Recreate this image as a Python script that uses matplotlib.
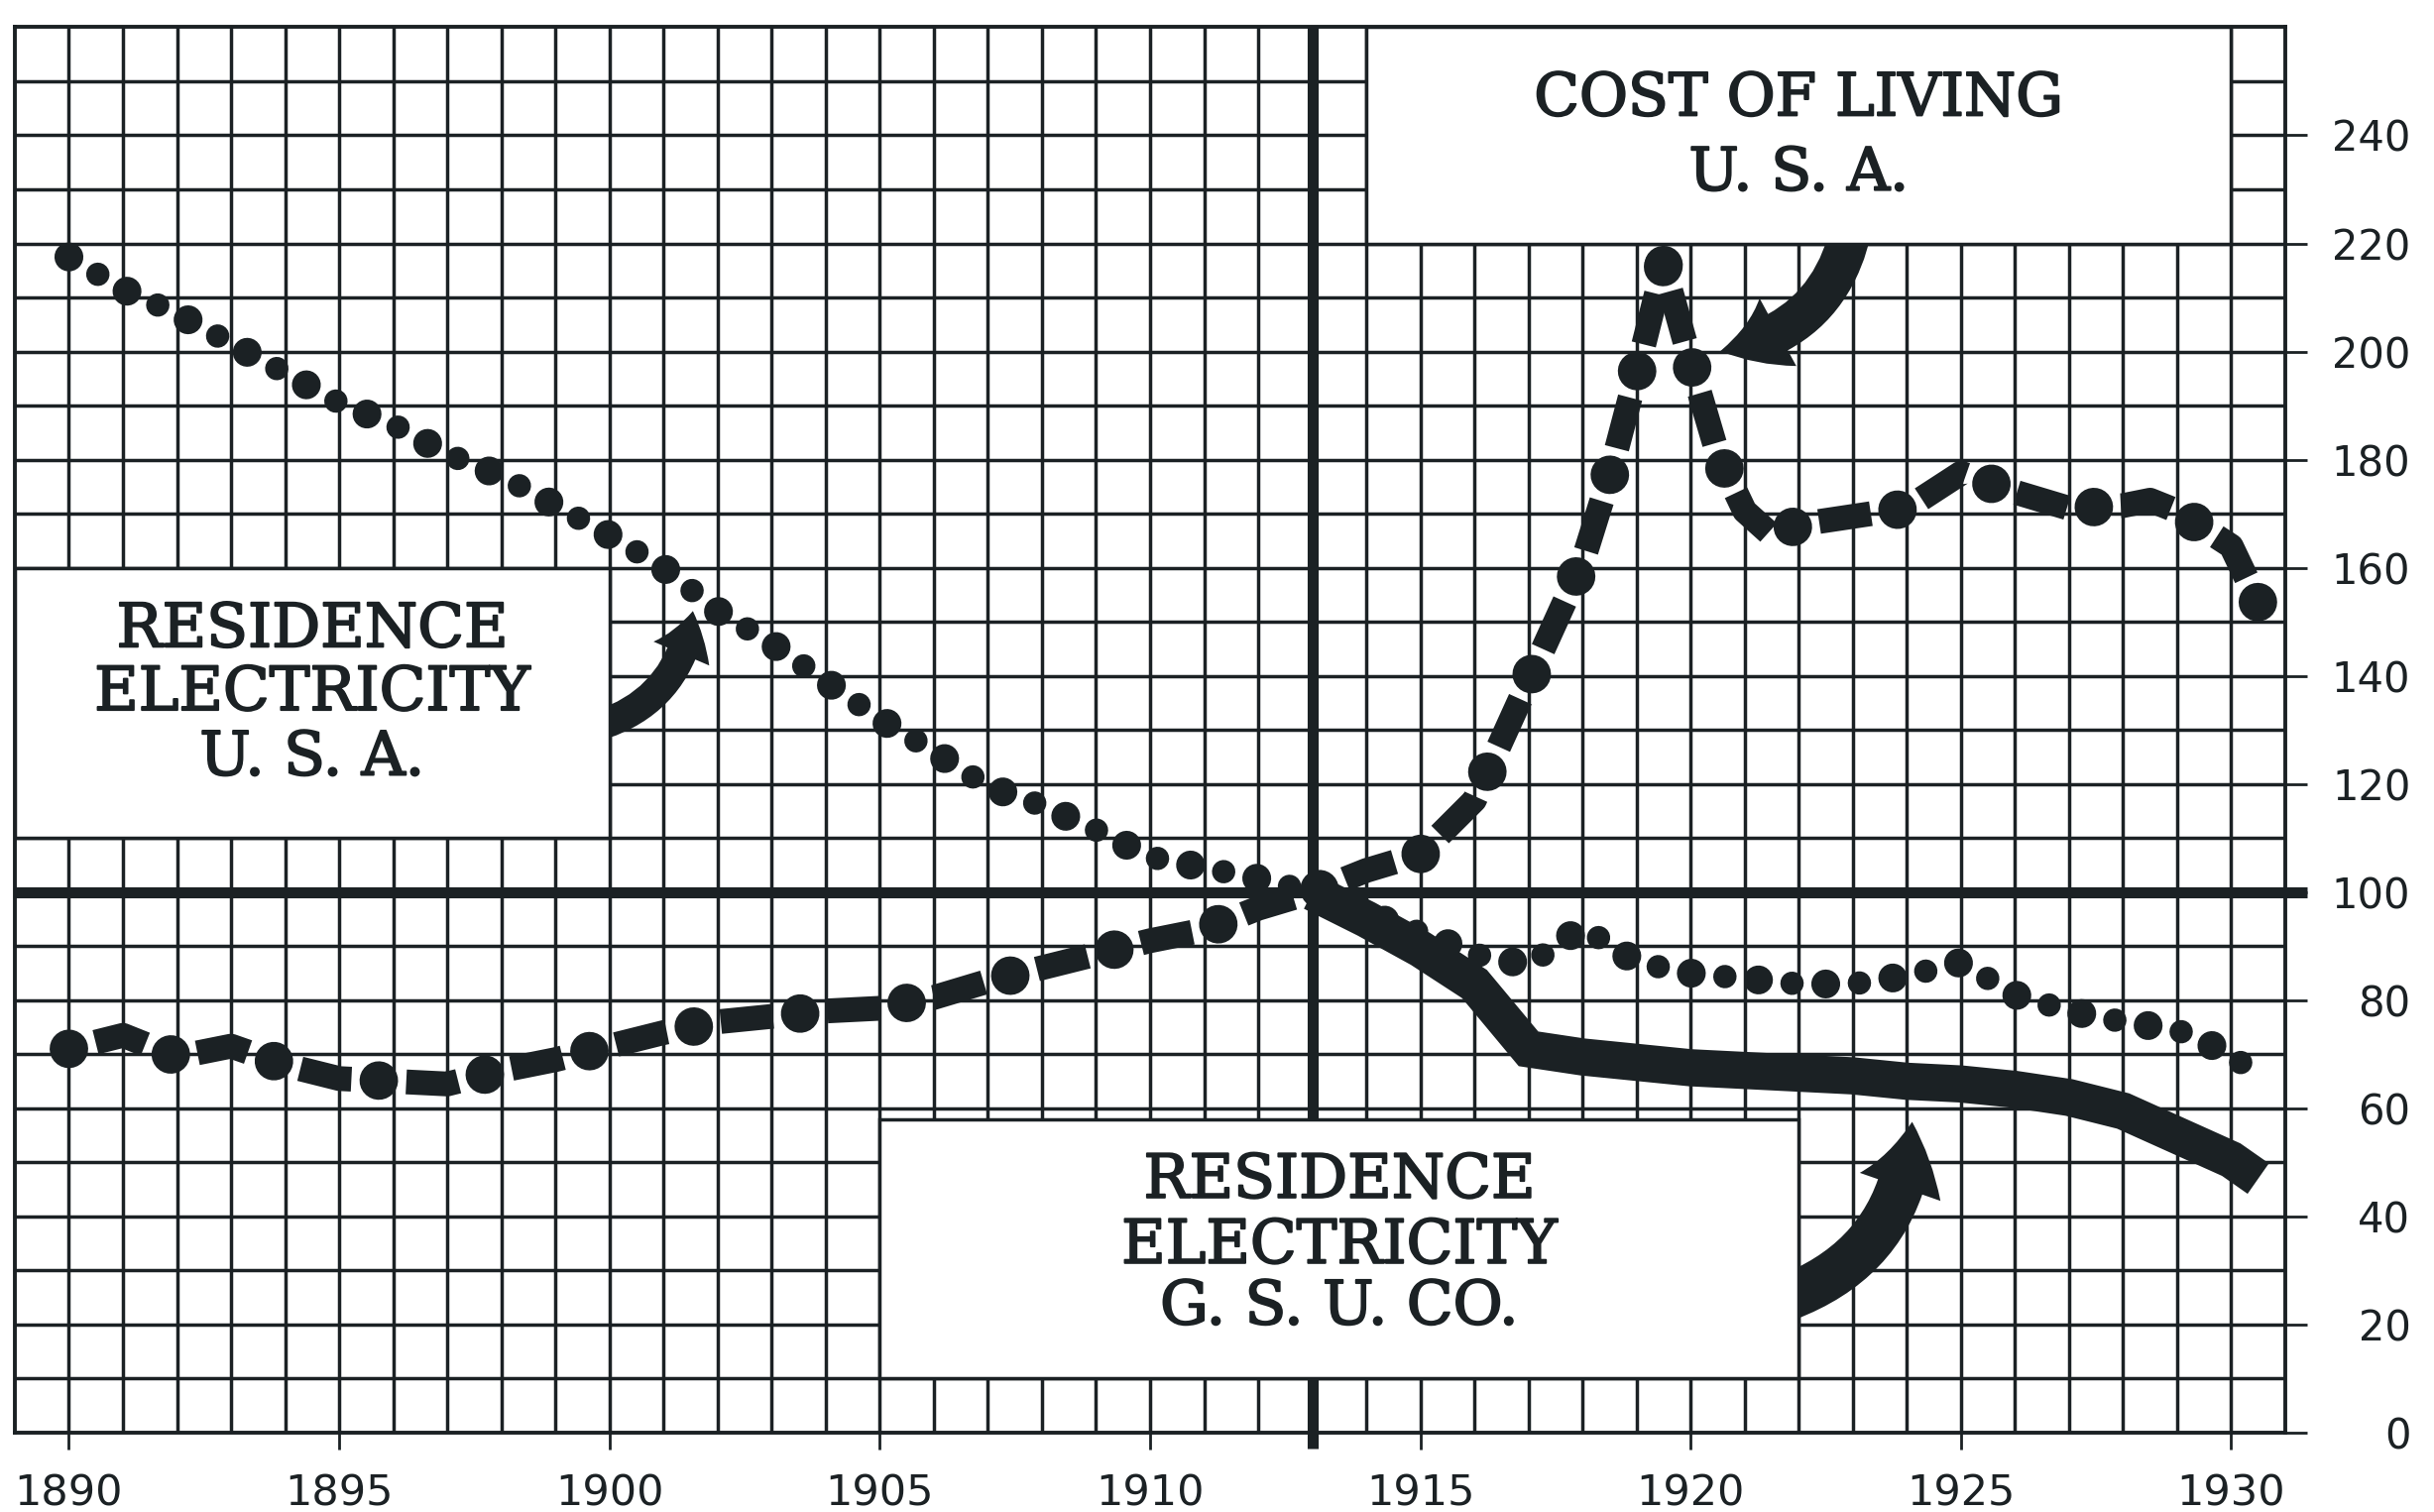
import numpy as np
import matplotlib
matplotlib.use('Agg')
import matplotlib.pyplot as plt
import matplotlib.patheffects as pe
from matplotlib.patches import Rectangle, FancyArrowPatch

# dash lengths below are in points, not multiples of the line width
plt.rcParams['lines.scale_dashes'] = False

INK = '#1b2124'

# Residence electricity, U.S.A.  (1913 = 100)
usa_years = [1890, 1891, 1892, 1893, 1894, 1895, 1896, 1897, 1898, 1899,
             1900, 1901, 1902, 1903, 1904, 1905, 1906, 1907, 1908, 1909,
             1910, 1911, 1912, 1913, 1914, 1915, 1916, 1917, 1918, 1919,
             1920, 1921, 1922, 1923, 1924, 1925, 1926, 1927, 1928, 1929,
             1930, 1930.4]
usa_index = [217.5, 211.5, 207, 201.5, 196, 190.5, 186.5, 181, 177, 171.5,
             166, 160, 152, 146, 139, 132, 126, 119.5, 116, 111.5,
             106.5, 104.5, 102.5, 100, 96, 92.5, 88.5, 86.5, 93.5, 87,
             85, 84, 83, 83, 84.5, 87, 81, 78, 76, 74.5,
             70, 66.5]

# Cost of living, U.S.A.
col_years = [1890, 1891, 1892, 1893, 1894, 1895, 1896, 1897, 1898, 1899,
             1900, 1901, 1902, 1903, 1904, 1905, 1906, 1907, 1908, 1909,
             1910, 1911, 1912, 1913, 1914, 1915, 1916, 1917, 1918, 1918.5,
             1919, 1919.5, 1920, 1920.5, 1921, 1921.5, 1922, 1923, 1924, 1925,
             1926, 1927, 1928, 1928.5, 1929, 1930, 1930.5]
col_index = [71, 73.5, 69.5, 71.5, 68, 65.5, 65, 64.5, 67, 69,
             71.5, 74, 76, 77, 78, 78.5, 80.5, 83.5, 86, 88.5,
             91, 93, 97, 100, 104, 107, 117, 139, 161, 177,
             196, 216, 198, 181, 170.5, 166, 168, 169.5, 171, 177.5,
             174, 171, 171.5, 172.5, 170.5, 164, 153.5]

# Residence electricity, G.S.U. Co.
gsu_years = [1913, 1914, 1915, 1916, 1917, 1918, 1919, 1920, 1921, 1922,
             1923, 1924, 1925, 1926, 1927, 1928, 1929, 1930, 1930.5]
gsu_index = [100, 95, 89.5, 83, 71, 69.5, 68.5, 67.5, 67, 66.5,
             66, 65, 64.5, 63.5, 62, 59.5, 55, 50.5, 47]

x_ticks = [1890, 1895, 1900, 1905, 1910, 1915, 1920, 1925, 1930]
y_ticks = [0, 20, 40, 60, 80, 100, 120, 140, 160, 180, 200, 220, 240]

labels = [
    # (lines, box x0, box y0, width, height, text x, line ys, size)
    (['RESIDENCE', 'ELECTRICITY', 'U. S. A.'], 1889, 110, 11, 50, 1894.5, [148.5, 136.8, 124.8], 44),
    (['COST OF LIVING', 'U. S. A.'], 1914, 220, 16, 40, 1922, [246.8, 233], 43),
    (['RESIDENCE', 'ELECTRICITY', 'G. S. U. CO.'], 1905, 10, 17, 48, 1913.5, [46.6, 34.5, 23.2], 44),
]

fig = plt.figure(figsize=(24.55, 15.25), dpi=100)
ax = fig.add_axes([0.0061, 0.0525, 0.9328, 0.9295])
ax.set_xlim(1889, 1931)
ax.set_ylim(0, 260)


def dash_dot(xs, ys, period=80, dot=28, dash=38, width=18):
    # dot, dash, dot ... with a dot landing on both ends of the piece
    pts = ax.transData.transform(np.column_stack([xs, ys]))
    length = np.hypot(*np.diff(pts, axis=0).T).sum() * 72 / fig.dpi
    n = max(1, round(length / period))
    p = length / n * 0.999
    start = dot / 2 + (p - dot - dash) / 2
    ax.plot(xs, ys, color=INK, lw=width, ls=(p - start, (dash, p - dash)),
            dash_capstyle='butt', zorder=3)
    ax.plot(xs, ys, color=INK, lw=dot, ls=(0, (0.01, p - 0.01)),
            dash_capstyle='round', zorder=3)


# graph paper
ax.vlines(range(1890, 1931), 0, 260, colors=INK, lw=2.5, zorder=1)
ax.hlines(range(10, 260, 10), 1889, 1931, colors=INK, lw=2.5, zorder=1)
ax.hlines(100, 1889, 1931.4, colors=INK, lw=8, zorder=2, clip_on=False)
ax.vlines(1913, -3, 260, colors=INK, lw=8, zorder=2, clip_on=False)

# residence electricity U.S.A. - big and small dots alternating
ax.plot(usa_years, usa_index, color=INK, lw=21, ls=(0, (0.01, 48.99)),
        dash_capstyle='round', zorder=3)
ax.plot(usa_years, usa_index, color=INK, lw=17, ls=(24.5, (0.01, 48.99)),
        dash_capstyle='round', zorder=3)

# cost of living - split at the 1919-20 peak so a dot sits on it
peak = col_index.index(max(col_index))
dash_dot(col_years[:peak + 1], col_index[:peak + 1])
dash_dot(col_years[peak:], col_index[peak:])

# G.S.U. Co. - heavy solid band
ax.plot(gsu_years, gsu_index, color=INK, lw=27, solid_capstyle='butt',
        solid_joinstyle='miter', zorder=3)

# curved pointers from the labels to their lines
arrows = [
    ((1899.5, 130), (1901.55, 152.5), 0.35, (32, 44, 22)),
    ((1923.0, 224), (1920.5, 200), -0.35, (44, 56, 30)),
    ((1921.5, 24), (1924.1, 58), 0.35, (48, 62, 34)),
]
for start, end, rad, (hl, hw, tw) in arrows:
    arr = FancyArrowPatch(start, end, connectionstyle='arc3,rad=%s' % rad,
                          arrowstyle='simple,head_length=%d,head_width=%d,tail_width=%d' % (hl, hw, tw),
                          mutation_scale=1, color=INK, lw=0, zorder=4)
    ax.add_patch(arr)

# white label boxes
heavier = [pe.withStroke(linewidth=1.4, foreground=INK)]
for lines, bx, by, bw, bh, tx, tys, size in labels:
    ax.add_patch(Rectangle((bx, by), bw, bh, facecolor='white', edgecolor=INK,
                           lw=2.5, zorder=5))
    for line, ty in zip(lines, tys):
        ax.text(tx, ty, line, ha='center', va='center', fontsize=size,
                family='DejaVu Serif', color=INK, zorder=6, path_effects=heavier)

for sp in ax.spines.values():
    sp.set_color(INK)
    sp.set_linewidth(2.8)
    sp.set_zorder(7)

ax.set_xticks(x_ticks)
ax.set_xticklabels([str(v) for v in x_ticks])
ax.tick_params(axis='x', direction='out', length=12, width=2, pad=17,
               labelsize=31, colors=INK)

ax.yaxis.tick_right()
ax.set_yticks(y_ticks)
ax.set_yticklabels([str(v) for v in y_ticks])
ax.tick_params(axis='y', direction='out', length=16, width=2, pad=75,
               labelsize=30, colors=INK)
for lbl in ax.get_yticklabels():
    lbl.set_horizontalalignment('right')

fig.savefig('out.png', dpi=100, facecolor='white')
